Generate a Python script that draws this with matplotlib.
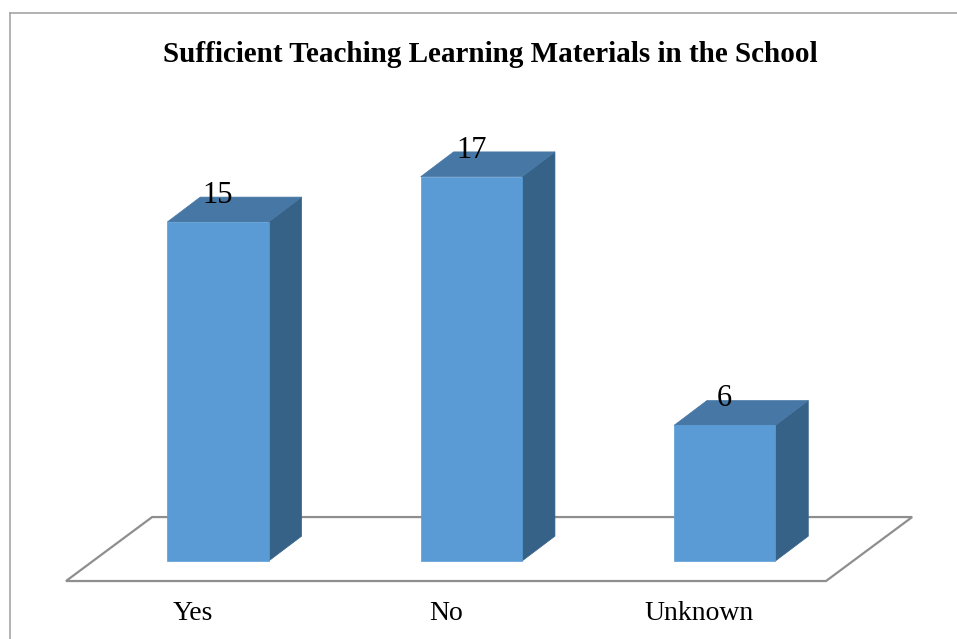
import matplotlib
matplotlib.use("Agg")
import matplotlib.pyplot as plt
from matplotlib.patches import Polygon
from matplotlib.lines import Line2D

# data
categories = ["Yes", "No", "Unknown"]
values = [15, 17, 6]
title = "Sufficient Teaching Learning Materials in the School"

# styling (Excel-like 3D column)
FRONT = "#5B9BD5"
TOP = "#4677A5"
SIDE = "#376287"
FLOOR_EDGE = "#8E8E8E"
plt.rcParams["font.family"] = ["Liberation Serif", "DejaVu Serif"]

BAR_W = 0.40       # bar width in category units
BAR_SHIFT = 0.10   # bar front face offset from floor front
DEPTH_X = 0.130    # bar depth offset (x units)
DEPTH_Y = 1.10     # bar depth offset (value units)
FLOOR_FRONT = -0.885
FLOOR_DX = 0.34
FLOOR_DY = 2.83

fig = plt.figure(figsize=(9.57, 6.39), dpi=100)
ax = fig.add_axes([0, 0, 1, 1])
ax.set_xlim(-0.7605, 3.017)
ax.set_ylim(-3.45, 24.82)
ax.axis("off")

n = len(categories)
# floor
x0, x1 = -0.5, n - 0.5
floor = Polygon([(x0, FLOOR_FRONT), (x1, FLOOR_FRONT),
                 (x1 + FLOOR_DX, FLOOR_FRONT + FLOOR_DY),
                 (x0 + FLOOR_DX, FLOOR_FRONT + FLOOR_DY)],
                closed=True, facecolor="white", edgecolor=FLOOR_EDGE,
                linewidth=1.6, zorder=1)
ax.add_patch(floor)

for i, (cat, v) in enumerate(zip(categories, values)):
    c = i + BAR_SHIFT
    l, r = c - BAR_W / 2, c + BAR_W / 2
    faces = [
        ([(r, 0), (r + DEPTH_X, DEPTH_Y), (r + DEPTH_X, v + DEPTH_Y), (r, v)], SIDE),
        ([(l, v), (r, v), (r + DEPTH_X, v + DEPTH_Y), (l + DEPTH_X, v + DEPTH_Y)], TOP),
        ([(l, 0), (r, 0), (r, v), (l, v)], FRONT),
    ]
    for pts, col in faces:
        ax.add_patch(Polygon(pts, closed=True, facecolor=col, edgecolor=col,
                             linewidth=0.5, zorder=3))
    ax.text(c, v + 0.84, str(v), ha="center", va="baseline",
            fontsize=22, zorder=4)
    ax.text(i, -2.61, cat, ha="center", va="baseline", fontsize=20)

fig.text(490 / 957, 1 - 54 / 639, title, ha="center", va="center",
         fontsize=21, fontweight="bold")

# chart-area border (left and top edges visible in the crop)
fig.add_artist(Line2D([10 / 957, 10 / 957], [1 - 13 / 639, 0],
                      transform=fig.transFigure, color="#A6A6A6", lw=1.2))
fig.add_artist(Line2D([10 / 957, 1], [1 - 13 / 639, 1 - 13 / 639],
                      transform=fig.transFigure, color="#A6A6A6", lw=1.2))

fig.savefig("out.png", dpi=100)
